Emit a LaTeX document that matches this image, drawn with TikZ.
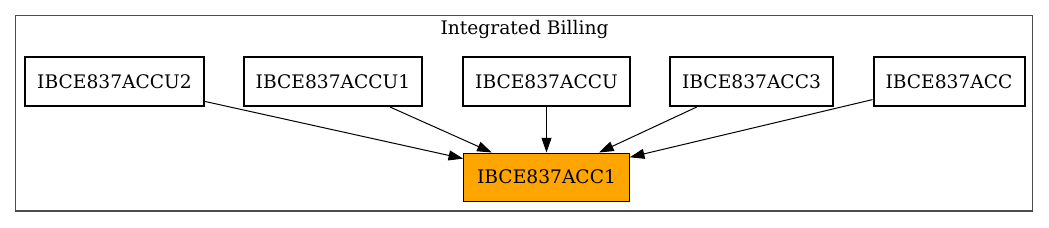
\documentclass[tikz,border=0pt]{standalone}
\usepackage{fontspec}
\setmainfont{DejaVu Serif}
\usepackage{tikz}
\usepackage{xcolor}
\usetikzlibrary{arrows.meta}
\definecolor{cTarget}{HTML}{FFA500}
\definecolor{cFrame} {HTML}{4D4D4D}

\begin{document}
\begin{tikzpicture}[x=0.75pt, y=-0.75pt,
    modbox/.style={draw=black, line width=1.5pt, minimum height=36.75pt,
                   inner xsep=9pt, font=\fontsize{14}{16}\selectfont},
    tgtbox/.style={draw=black, fill=cTarget, line width=0.75pt, minimum height=36pt,
                   inner xsep=10pt, font=\fontsize{14}{16}\selectfont},
    dep/.style={line width=0.75pt, -{Triangle[length=11pt, width=7.5pt]}}]
        \useasboundingbox (0, 0) rectangle (1049, 228);
        % cluster frame
        \draw[cFrame, line width=0.9pt] (15.5, 15.5) rectangle (1032.5, 211);
        \node[font=\fontsize{14}{16}\selectfont] (title) at (524.5, 29) {Integrated Billing};
        % routines
        \node[modbox, minimum width=132.75pt] (accu2) at (114.5, 81.5) {IBCE837ACCU2};
        \node[modbox, minimum width=132pt]    (accu1) at (333, 81.5)   {IBCE837ACCU1};
        \node[modbox, minimum width=123.75pt] (accu)  at (546.5, 81.5) {IBCE837ACCU};
        \node[modbox, minimum width=120.75pt] (acc3)  at (751.5, 81.5) {IBCE837ACC3};
        \node[modbox, minimum width=112.5pt]  (acc)   at (949, 81.5)   {IBCE837ACC};
        \node[tgtbox, minimum width=120.75pt] (acc1)  at (546.5, 177)  {IBCE837ACC1};
        % calls
        \foreach \src in {accu2, accu1, accu, acc3, acc}
          \draw[dep] (\src) -- (acc1);
      \end{tikzpicture}
\end{document}
